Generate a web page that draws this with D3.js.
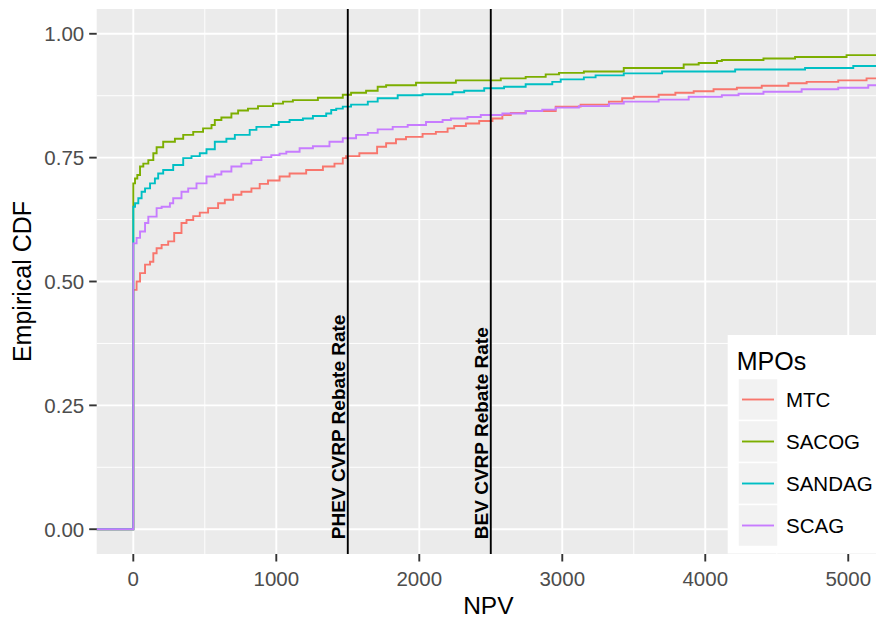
<!DOCTYPE html>
<html>
<head>
<meta charset="utf-8">
<script src="https://cdn.jsdelivr.net/npm/d3@7/dist/d3.min.js"></script>
<style>
  html, body { margin: 0; padding: 0; background: #fff; }
  svg { display: block; font-family: "Liberation Sans", Arial, sans-serif; }
</style>
</head>
<body>
<svg id="chart" width="876" height="619"></svg>
<script>
// ---------- data ----------
const seriesNames = ["MTC", "SACOG", "SANDAG", "SCAG"];
const seriesColors = ["#F8766D", "#7CAE00", "#00BFC4", "#C77CFF"];

// [NPV, empirical CDF] step points
const MTC = [[0,0.483],[23,0.500],[47,0.517],[82,0.534],[117,0.540],[140,0.557],[163,0.567],[198,0.574],[244,0.581],[286,0.598],[337,0.618],[372,0.624],[419,0.632],[465,0.639],[523,0.648],[593,0.658],[640,0.665],[698,0.675],[756,0.681],[826,0.688],[884,0.697],[942,0.704],[1023,0.712],[1093,0.718],[1209,0.725],[1326,0.732],[1407,0.738],[1465,0.749],[1488,0.753],[1581,0.759],[1705,0.772],[1768,0.779],[1837,0.787],[1907,0.792],[2023,0.798],[2116,0.802],[2198,0.809],[2244,0.814],[2326,0.819],[2419,0.824],[2512,0.829],[2581,0.836],[2640,0.840],[2744,0.844],[2954,0.853],[3128,0.857],[3326,0.863],[3419,0.870],[3500,0.873],[3674,0.877],[3791,0.881],[3919,0.884],[4058,0.888],[4221,0.891],[4395,0.895],[4581,0.900],[4709,0.903],[4930,0.906],[5128,0.910]];

const SACOG = [[0,0.698],[12,0.708],[28,0.715],[47,0.732],[70,0.738],[105,0.745],[140,0.759],[163,0.771],[209,0.782],[291,0.788],[349,0.796],[419,0.802],[488,0.809],[547,0.816],[570,0.826],[616,0.831],[686,0.839],[733,0.845],[802,0.849],[872,0.854],[977,0.859],[1047,0.863],[1116,0.866],[1291,0.871],[1465,0.877],[1523,0.881],[1628,0.885],[1709,0.893],[1768,0.896],[1977,0.901],[2256,0.906],[2570,0.910],[2744,0.913],[2884,0.918],[2977,0.921],[3151,0.924],[3430,0.931],[3849,0.938],[3954,0.941],[4082,0.945],[4116,0.947],[4407,0.950],[4628,0.953],[4988,0.957]];

const SANDAG = [[0,0.651],[12,0.658],[35,0.668],[58,0.681],[82,0.688],[117,0.698],[151,0.708],[174,0.718],[209,0.725],[279,0.735],[349,0.749],[407,0.753],[465,0.759],[512,0.767],[570,0.782],[651,0.788],[710,0.796],[814,0.806],[861,0.812],[965,0.816],[1017,0.822],[1093,0.826],[1186,0.829],[1256,0.834],[1349,0.839],[1384,0.846],[1419,0.849],[1465,0.853],[1523,0.857],[1640,0.863],[1709,0.870],[1849,0.876],[2023,0.878],[2233,0.882],[2314,0.885],[2454,0.890],[2593,0.893],[2744,0.898],[2930,0.903],[2989,0.908],[3151,0.912],[3233,0.916],[3430,0.920],[3698,0.924],[4209,0.928],[4698,0.931],[5035,0.935]];

const SCAG = [[0,0.577],[23,0.588],[47,0.601],[82,0.618],[105,0.631],[163,0.648],[198,0.651],[256,0.658],[279,0.668],[337,0.681],[384,0.688],[442,0.698],[512,0.712],[570,0.716],[616,0.722],[686,0.732],[756,0.738],[826,0.745],[896,0.751],[965,0.755],[1023,0.758],[1070,0.762],[1163,0.769],[1256,0.773],[1372,0.782],[1465,0.789],[1558,0.796],[1640,0.800],[1709,0.807],[1814,0.812],[1919,0.816],[2047,0.822],[2163,0.826],[2221,0.829],[2337,0.832],[2430,0.836],[2581,0.839],[2744,0.844],[2860,0.847],[2954,0.851],[3116,0.854],[3326,0.859],[3430,0.863],[3674,0.867],[3884,0.873],[4116,0.876],[4233,0.879],[4407,0.883],[4674,0.888],[4930,0.891],[5140,0.896]];

const seriesData = [MTC, SACOG, SANDAG, SCAG];

const xTicks = [0, 1000, 2000, 3000, 4000, 5000];
const xMinor = [500, 1500, 2500, 3500, 4500];
const yTicks = [0, 0.25, 0.5, 0.75, 1.0];
const yMinor = [0.125, 0.375, 0.625, 0.875];

const refLines = [1500, 2500];
const refLabels = ["PHEV CVRP Rebate Rate", "BEV CVRP Rebate Rate"];

const xTitle = "NPV";
const yTitle = "Empirical CDF";
const legendTitle = "MPOs";

// ---------- layout ----------
const svg = d3.select("#chart");
const W = 876, H = 619;
const panel = { left: 96.7, right: 876, top: 9, bottom: 554 };

const x = d3.scaleLinear().domain([-256, 5194]).range([panel.left, panel.right]);
const y = d3.scaleLinear().domain([-0.05, 1.05]).range([panel.bottom, panel.top]);

svg.append("rect").attr("width", W).attr("height", H).attr("fill", "#fff");

// panel background
svg.append("rect")
  .attr("x", panel.left).attr("y", panel.top)
  .attr("width", panel.right - panel.left).attr("height", panel.bottom - panel.top)
  .attr("fill", "#EBEBEB");

const grid = svg.append("g");
// minor grid
grid.selectAll(".xminor").data(xMinor).join("line")
  .attr("x1", d => x(d)).attr("x2", d => x(d))
  .attr("y1", panel.top).attr("y2", panel.bottom)
  .attr("stroke", "#fff").attr("stroke-width", 0.95);
grid.selectAll(".yminor").data(yMinor).join("line")
  .attr("y1", d => y(d)).attr("y2", d => y(d))
  .attr("x1", panel.left).attr("x2", panel.right)
  .attr("stroke", "#fff").attr("stroke-width", 0.95);
// major grid
grid.selectAll(".xmajor").data(xTicks).join("line")
  .attr("x1", d => x(d)).attr("x2", d => x(d))
  .attr("y1", panel.top).attr("y2", panel.bottom)
  .attr("stroke", "#fff").attr("stroke-width", 1.9);
grid.selectAll(".ymajor").data(yTicks).join("line")
  .attr("y1", d => y(d)).attr("y2", d => y(d))
  .attr("x1", panel.left).attr("x2", panel.right)
  .attr("stroke", "#fff").attr("stroke-width", 1.9);

// clip
svg.append("clipPath").attr("id", "clip")
  .append("rect")
  .attr("x", panel.left).attr("y", panel.top)
  .attr("width", panel.right - panel.left).attr("height", panel.bottom - panel.top);

const plot = svg.append("g").attr("clip-path", "url(#clip)");

const line = d3.line()
  .x(d => x(d[0])).y(d => y(d[1]))
  .curve(d3.curveStepAfter);

const [dMin, dMax] = x.domain();
seriesData.forEach((s, i) => {
  const pts = [[dMin - 100, 0]].concat(s, [[dMax + 100, s[s.length - 1][1]]]);
  plot.append("path")
    .attr("d", line(pts))
    .attr("fill", "none")
    .attr("stroke", seriesColors[i])
    .attr("stroke-width", 1.9);
});

// reference lines
plot.selectAll(".ref").data(refLines).join("line")
  .attr("x1", d => x(d)).attr("x2", d => x(d))
  .attr("y1", panel.top).attr("y2", panel.bottom)
  .attr("stroke", "#000").attr("stroke-width", 1.9);

plot.selectAll(".reflab").data(refLines).join("text")
  .attr("transform", d => `translate(${x(d) - 2.5},${y(-0.02)}) rotate(-90)`)
  .attr("text-anchor", "start")
  .attr("font-size", 19)
  .attr("font-weight", "bold")
  .attr("fill", "#000")
  .text((d, i) => refLabels[i]);

// axes
const tickColor = "#333333", labColor = "#4D4D4D";
const yAxis = svg.append("g");
yAxis.selectAll("line").data(yTicks).join("line")
  .attr("x1", panel.left - 7.5).attr("x2", panel.left)
  .attr("y1", d => y(d)).attr("y2", d => y(d))
  .attr("stroke", tickColor).attr("stroke-width", 1.9);
yAxis.selectAll("text").data(yTicks).join("text")
  .attr("x", panel.left - 12.5).attr("y", d => y(d) + 7.4)
  .attr("text-anchor", "end")
  .attr("font-size", 20.5).attr("fill", labColor)
  .text(d => d3.format(".2f")(d));

const xAxis = svg.append("g");
xAxis.selectAll("line").data(xTicks).join("line")
  .attr("x1", d => x(d)).attr("x2", d => x(d))
  .attr("y1", panel.bottom).attr("y2", panel.bottom + 7.5)
  .attr("stroke", tickColor).attr("stroke-width", 1.9);
xAxis.selectAll("text").data(xTicks).join("text")
  .attr("x", d => x(d)).attr("y", 586)
  .attr("text-anchor", "middle")
  .attr("font-size", 20.5).attr("fill", labColor)
  .text(d => d3.format("d")(d));

svg.append("text")
  .attr("x", (panel.left + panel.right) / 2 + 2).attr("y", 614)
  .attr("text-anchor", "middle").attr("font-size", 24.5).attr("fill", "#000")
  .text(xTitle);

svg.append("text")
  .attr("transform", `translate(30.5,${(panel.top + panel.bottom) / 2}) rotate(-90)`)
  .attr("text-anchor", "middle").attr("font-size", 25).attr("fill", "#000")
  .text(yTitle);

// legend
const lg = svg.append("g");
lg.append("rect")
  .attr("x", 727.7).attr("y", 335).attr("width", W - 727.7).attr("height", 218.5)
  .attr("fill", "#fff");
lg.append("text")
  .attr("x", 736.7).attr("y", 370)
  .attr("font-size", 25).attr("fill", "#000")
  .text(legendTitle);
const keyTop = 378.5, keyH = 42, keyW = 40, keyX = 738;
const keys = lg.selectAll(".key").data(seriesNames).join("g")
  .attr("transform", (d, i) => `translate(${keyX},${keyTop + i * keyH})`);
keys.append("rect")
  .attr("width", keyW).attr("height", keyH)
  .attr("fill", "#F2F2F2").attr("stroke", "#fff").attr("stroke-width", 1.5);
keys.append("line")
  .attr("x1", 4).attr("x2", keyW - 4)
  .attr("y1", keyH / 2).attr("y2", keyH / 2)
  .attr("stroke", (d, i) => seriesColors[i]).attr("stroke-width", 1.9);
keys.append("text")
  .attr("x", keyW + 8).attr("y", keyH / 2 + 7.4)
  .attr("font-size", 20.5).attr("fill", "#000")
  .text(d => d);
</script>
</body>
</html>
